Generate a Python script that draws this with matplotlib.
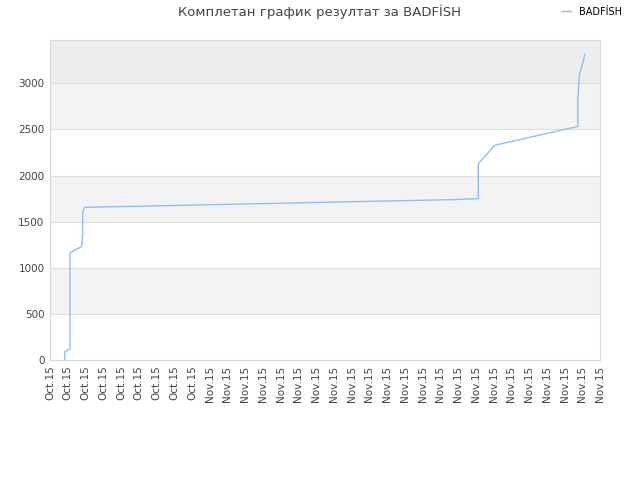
import matplotlib
matplotlib.use('Agg')
import matplotlib.pyplot as plt

# tick labels (evenly spaced, index positions)
tick_labels = ['Oct.15'] * 9 + ['Nov.15'] * 23

# cumulative score, x in tick-index units
score_x = [0.83, 0.83, 1.13, 1.13, 1.79, 1.84, 1.84, 1.93, 3.1, 5.6, 8.1,
           10.5, 13.0, 15.5, 17.9, 20.4, 22.9, 24.14, 24.14, 25.08, 29.75,
           29.75, 29.84, 29.93, 30.06, 30.14]
score_y = [0, 90, 120, 1163, 1232, 1360, 1601, 1655, 1660, 1670, 1680,
           1690, 1700, 1710, 1720, 1730, 1740, 1750, 2130, 2329, 2533,
           2826, 3087, 3152, 3242, 3315]

name = 'BADFÍSH'
title = 'Комплетан график резултат за ' + name

plt.rcParams['font.family'] = ['DejaVu Sans']

fig = plt.figure(figsize=(6.4, 4.8), dpi=100)
ax = fig.add_axes([50 / 640, 1 - 360 / 480, 550 / 640, 320 / 480])

ymax = 3470
ax.set_xlim(0, len(tick_labels) - 1)
ax.set_ylim(0, ymax)

# alternating bands
bands = [(0, 500, '#ffffff'), (500, 1000, '#f3f3f3'), (1000, 1500, '#ffffff'),
         (1500, 2000, '#f3f3f3'), (2000, 2500, '#ffffff'), (2500, 3000, '#f3f3f3'),
         (3000, ymax, '#ededed')]
for lo, hi, c in bands:
    ax.axhspan(lo, hi, color=c, zorder=0, lw=0)
for v in range(500, 3001, 500):
    ax.axhline(v, color='#dedede', lw=0.8, zorder=1)

ax.plot(score_x, score_y, color='#90c0f0', lw=1.0, zorder=3, label=name)

ax.set_xticks(range(len(tick_labels)))
ax.set_xticklabels(tick_labels, rotation=90, fontsize=7.5, color='#444444')
ax.set_yticks(range(0, 3001, 500))
ax.set_yticklabels([str(v) for v in range(0, 3001, 500)], fontsize=7.5, color='#444444')
ax.tick_params(length=0, pad=4)
for s in ax.spines.values():
    s.set_color('#d8d8d8')

fig.text(0.5, 1 - 12 / 480, title, ha='center', va='center', fontsize=9.5, color='#444444')
fig.legend(loc='upper right', bbox_to_anchor=(1 - 11 / 640, 1.0), frameon=False,
           fontsize=7, handlelength=1.0, borderaxespad=0.3)

fig.savefig('out.png', dpi=100, facecolor='white')
plt.close(fig)
